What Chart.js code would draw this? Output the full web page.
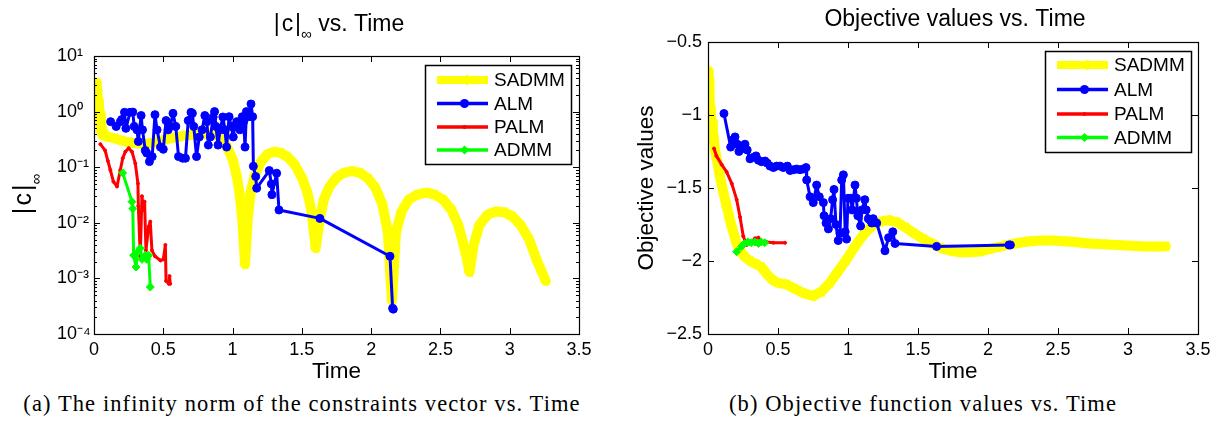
<!DOCTYPE html>
<html>
<head>
<meta charset="utf-8">
<script src="https://cdn.jsdelivr.net/npm/chart.js@4.4.1/dist/chart.umd.min.js"></script>
<style>
  body { margin: 0; background: #fff; width: 1218px; height: 421px; position: relative; overflow: hidden; }
  canvas { position: absolute; top: 0; }
  .cap { position: absolute; top: 391px; font-family: "Liberation Serif", "DejaVu Serif", serif; font-size: 22.5px; letter-spacing: 1.1px; text-align: center; white-space: nowrap; }
</style>
</head>
<body>
<canvas id="left" width="600" height="390" style="left:0"></canvas>
<canvas id="right" width="618" height="390" style="left:600px"></canvas>
<div class="cap" style="left:0;width:604px">(a) The infinity norm of the constraints vector vs. Time</div>
<div class="cap" style="left:600px;width:646px">(b) Objective function values vs. Time</div>
<script>
// ---- data: [time, value] ----
const seriesNames = ['SADMM', 'ALM', 'PALM', 'ADMM']

const timeTicks = [0, 0.5, 1, 1.5, 2, 2.5, 3, 3.5]
const normTicks = [1e-4, 1e-3, 1e-2, 1e-1, 1, 10]
const normTickLabels = ['10\u207B\u2074', '10\u207B\u00B3', '10\u207B\u00B2', '10\u207B\u00B9', '10\u2070', '10\u00B9']
const objTicks = [-2.5, -2, -1.5, -1, -0.5]
const objTickLabels = ['\u22122.5', '\u22122', '\u22121.5', '\u22121', '\u22120.5']

// |c|_inf
const sadmmNorm = [[0,3.2],[0.005,1.5],[0.01,2.8],[0.015,3.3],[0.02,1.8],[0.025,2.4],[0.03,1.2],[0.035,1.6],[0.04,0.7],[0.045,0.9],[0.05,0.45],[0.055,0.6],[0.06,0.38],[0.07,0.42],[0.08,0.36],[0.1,0.35],[0.15,0.33],[0.2,0.3],[0.25,0.28],[0.3,0.27],[0.35,0.26],[0.4,0.27],[0.45,0.29],[0.5,0.31],[0.55,0.33],[0.6,0.35],[0.65,0.37],[0.7,0.38],[0.75,0.39],[0.8,0.4],[0.85,0.4],[0.9,0.36],[0.95,0.26],[1.0,0.14],[1.03,0.07],[1.05,0.035],[1.07,0.012],[1.09,0.0018],[1.11,0.012],[1.13,0.035],[1.16,0.07],[1.2,0.12],[1.25,0.17],[1.3,0.19],[1.35,0.18],[1.4,0.15],[1.45,0.11],[1.5,0.065],[1.54,0.035],[1.57,0.016],[1.6,0.0035],[1.63,0.012],[1.66,0.027],[1.7,0.045],[1.75,0.065],[1.8,0.079],[1.86,0.085],[1.92,0.079],[1.98,0.062],[2.03,0.043],[2.08,0.022],[2.12,0.007],[2.15,0.0004],[2.18,0.007],[2.22,0.016],[2.27,0.026],[2.33,0.032],[2.4,0.035],[2.46,0.032],[2.52,0.026],[2.58,0.017],[2.63,0.009],[2.68,0.003],[2.71,0.0013],[2.74,0.004],[2.78,0.009],[2.84,0.014],[2.9,0.016],[2.96,0.0155],[3.02,0.013],[3.08,0.009],[3.14,0.005],[3.2,0.002],[3.26,0.0009]]
const almNorm = [[0.12,0.66],[0.16,0.54],[0.19,0.66],[0.2,0.72],[0.22,0.97],[0.23,0.5],[0.26,0.97],[0.28,0.98],[0.29,0.54],[0.31,0.47],[0.32,0.29],[0.34,0.85],[0.35,0.47],[0.37,0.2],[0.38,0.18],[0.4,0.126],[0.42,0.155],[0.44,0.88],[0.455,0.47],[0.48,0.23],[0.5,0.21],[0.52,0.69],[0.535,0.47],[0.55,0.54],[0.57,0.93],[0.59,0.54],[0.61,0.155],[0.64,0.145],[0.66,0.145],[0.68,0.69],[0.7,0.97],[0.71,0.93],[0.72,0.54],[0.74,0.155],[0.76,0.35],[0.78,0.47],[0.8,0.85],[0.815,0.66],[0.825,0.25],[0.84,0.35],[0.86,0.8],[0.87,1.0],[0.88,0.54],[0.895,0.25],[0.91,0.47],[0.93,0.8],[0.945,0.47],[0.957,0.23],[0.975,0.81],[0.99,0.54],[1.005,0.35],[1.015,0.54],[1.03,0.66],[1.053,0.47],[1.07,0.81],[1.08,0.66],[1.09,0.23],[1.1,1.0],[1.115,0.81],[1.133,1.37],[1.145,0.81],[1.15,0.104],[1.167,0.068],[1.174,0.042],[1.265,0.087],[1.28,0.05],[1.284,0.032],[1.318,0.078],[1.335,0.017],[1.63,0.012],[2.136,0.0025],[2.155,0.00029],[2.16,0.00028]]
const palmNorm = [[0.046,0.26],[0.08,0.2],[0.1,0.13],[0.118,0.089],[0.14,0.055],[0.166,0.045],[0.19,0.089],[0.207,0.144],[0.226,0.19],[0.25,0.22],[0.274,0.19],[0.298,0.117],[0.317,0.051],[0.32,0.02],[0.334,0.0025],[0.346,0.03],[0.358,0.017],[0.365,0.024],[0.375,0.0032],[0.394,0.0085],[0.406,0.0105],[0.418,0.0032],[0.44,0.0025],[0.48,0.0021],[0.5,0.0022],[0.515,0.004],[0.52,0.0009],[0.54,0.0008],[0.545,0.0011],[0.55,0.0008]]
const admmNorm = [[0.207,0.079],[0.274,0.024],[0.28,0.018],[0.286,0.0026],[0.303,0.0016],[0.317,0.003],[0.334,0.0035],[0.346,0.0022],[0.37,0.0026],[0.38,0.0022],[0.394,0.0026],[0.406,0.0007]]

// objective values
const sadmmObj = [[0,-0.7],[0.005,-0.88],[0.01,-0.75],[0.015,-1.07],[0.02,-0.95],[0.025,-1.12],[0.03,-1.05],[0.035,-1.18],[0.04,-1.14],[0.05,-1.24],[0.062,-1.3],[0.085,-1.42],[0.11,-1.53],[0.135,-1.63],[0.157,-1.72],[0.18,-1.8],[0.205,-1.88],[0.23,-1.93],[0.26,-1.97],[0.3,-2.0],[0.34,-2.02],[0.38,-2.04],[0.42,-2.09],[0.46,-2.13],[0.5,-2.15],[0.56,-2.16],[0.62,-2.19],[0.68,-2.22],[0.75,-2.24],[0.81,-2.21],[0.87,-2.15],[0.93,-2.07],[0.99,-1.99],[1.05,-1.9],[1.11,-1.82],[1.17,-1.76],[1.23,-1.73],[1.29,-1.72],[1.35,-1.735],[1.41,-1.77],[1.47,-1.81],[1.54,-1.85],[1.6,-1.88],[1.66,-1.91],[1.73,-1.93],[1.8,-1.94],[1.87,-1.94],[1.94,-1.935],[2.0,-1.92],[2.07,-1.905],[2.14,-1.89],[2.22,-1.875],[2.3,-1.865],[2.38,-1.86],[2.46,-1.86],[2.54,-1.865],[2.62,-1.87],[2.72,-1.88],[2.82,-1.885],[2.92,-1.89],[3.02,-1.895],[3.12,-1.9],[3.2,-1.9],[3.27,-1.9]]
const almObj = [[0.114,-0.99],[0.162,-1.22],[0.18,-1.17],[0.193,-1.15],[0.21,-1.2],[0.221,-1.25],[0.245,-1.23],[0.264,-1.2],[0.28,-1.24],[0.3,-1.3],[0.324,-1.29],[0.343,-1.28],[0.36,-1.31],[0.383,-1.32],[0.407,-1.315],[0.424,-1.33],[0.443,-1.35],[0.467,-1.36],[0.49,-1.35],[0.514,-1.35],[0.538,-1.36],[0.567,-1.35],[0.586,-1.38],[0.61,-1.375],[0.633,-1.37],[0.657,-1.375],[0.68,-1.37],[0.7,-1.36],[0.705,-1.445],[0.729,-1.56],[0.752,-1.6],[0.776,-1.48],[0.795,-1.56],[0.824,-1.6],[0.829,-1.69],[0.843,-1.74],[0.86,-1.78],[0.876,-1.71],[0.89,-1.58],[0.9,-1.51],[0.914,-1.75],[0.93,-1.86],[0.943,-1.81],[0.955,-1.445],[0.967,-1.41],[0.98,-1.8],[0.99,-1.85],[1.0,-1.57],[1.02,-1.57],[1.03,-1.65],[1.05,-1.48],[1.06,-1.57],[1.07,-1.69],[1.09,-1.76],[1.1,-1.65],[1.12,-1.58],[1.13,-1.65],[1.145,-1.71],[1.157,-1.72],[1.17,-1.74],[1.18,-1.71],[1.205,-1.74],[1.264,-1.93],[1.29,-1.84],[1.32,-1.8],[1.336,-1.88],[1.633,-1.9],[2.15,-1.89],[2.16,-1.89]]
const palmObj = [[0.043,-1.23],[0.06,-1.28],[0.098,-1.34],[0.133,-1.39],[0.17,-1.47],[0.205,-1.58],[0.229,-1.7],[0.252,-1.83],[0.276,-1.89],[0.3,-1.88],[0.336,-1.845],[0.36,-1.84],[0.38,-1.87],[0.417,-1.87],[0.467,-1.875],[0.55,-1.875]]
const admmObj = [[0.205,-1.936],[0.24,-1.9],[0.26,-1.88],[0.286,-1.87],[0.31,-1.875],[0.336,-1.87],[0.36,-1.88],[0.38,-1.87],[0.405,-1.875]]

const SANS = '"Liberation Sans", Arial, Helvetica, sans-serif'

const styles = [
  { color: '#ffff00', width: 10, marker: 'triangle', rotation: -90, radius: 5.5, order: 4 },
  { color: '#0000ff', width: 3, marker: 'circle', rotation: 0, radius: 4, order: 3 },
  { color: '#ff0000', width: 3, marker: 'circle', rotation: 0, radius: 1.5, order: 2 },
  { color: '#00ff00', width: 3, marker: 'rectRot', rotation: 0, radius: 4, order: 1 },
]

function makeDatasets(list) {
  return list.map((pts, i) => {
    const s = styles[i]
    return {
      label: seriesNames[i],
      data: pts.map(([x, y]) => ({ x, y })),
      borderColor: s.color,
      backgroundColor: s.color,
      borderWidth: s.width,
      borderJoinStyle: 'round',
      borderCapStyle: 'round',
      pointStyle: s.marker,
      rotation: s.rotation,
      pointRadius: s.radius,
      pointBackgroundColor: s.color,
      pointBorderColor: s.color,
      pointBorderWidth: 1,
      tension: 0,
      order: s.order,
    }
  })
}

function drawMarker(ctx, s, x, y) {
  ctx.fillStyle = s.color
  ctx.beginPath()
  const r = s.radius + (s.marker === 'triangle' ? 1 : 0.5)
  if (s.marker === 'circle') {
    ctx.arc(x, y, r, 0, Math.PI * 2)
  } else if (s.marker === 'triangle') {
    ctx.moveTo(x - r, y); ctx.lineTo(x + r * 0.6, y - r * 0.9); ctx.lineTo(x + r * 0.6, y + r * 0.9)
  } else {
    ctx.moveTo(x, y - r); ctx.lineTo(x + r, y); ctx.lineTo(x, y + r); ctx.lineTo(x - r, y)
  }
  ctx.closePath()
  ctx.fill()
}

// text made of parts, some of them lowered (subscripts)
function drawParts(ctx, parts, cx, base, rot) {
  ctx.save()
  ctx.translate(cx, base)
  if (rot) ctx.rotate(rot)
  let w = 0
  parts.forEach(p => { ctx.font = p.size + 'px ' + SANS; p.w = ctx.measureText(p.t).width; w += p.w })
  let xx = -w / 2
  ctx.fillStyle = '#000'
  ctx.textAlign = 'left'
  ctx.textBaseline = 'alphabetic'
  parts.forEach(p => { ctx.font = p.size + 'px ' + SANS; ctx.fillText(p.t, xx, p.dy || 0); xx += p.w })
  ctx.restore()
}

// matlab style box, inward ticks, titles and boxed legend
const frame = {
  id: 'frame',
  afterDraw(chart, args, o) {
    const { ctx, chartArea: a, scales: { x, y } } = chart
    ctx.save()
    ctx.strokeStyle = '#000'
    ctx.lineWidth = 1
    ctx.beginPath()
    x.ticks.forEach(t => {
      const p = Math.round(x.getPixelForValue(t.value)) + 0.5
      ctx.moveTo(p, a.bottom); ctx.lineTo(p, a.bottom - 6)
      ctx.moveTo(p, a.top); ctx.lineTo(p, a.top + 6)
    })
    y.ticks.forEach(t => {
      const p = Math.round(y.getPixelForValue(t.value)) + 0.5
      ctx.moveTo(a.left, p); ctx.lineTo(a.left + 6, p)
      ctx.moveTo(a.right, p); ctx.lineTo(a.right - 6, p)
    })
    if (y.type === 'logarithmic') {
      for (let d = -4; d < 1; d++) {
        for (let k = 2; k < 10; k++) {
          const p = Math.round(y.getPixelForValue(k * Math.pow(10, d))) + 0.5
          ctx.moveTo(a.left, p); ctx.lineTo(a.left + 3, p)
          ctx.moveTo(a.right, p); ctx.lineTo(a.right - 3, p)
        }
      }
    }
    ctx.stroke()
    ctx.lineWidth = 1.2
    ctx.strokeRect(Math.round(a.left) + 0.5, Math.round(a.top) + 0.5, Math.round(a.width), Math.round(a.height))

    drawParts(ctx, o.title, o.titleX, o.titleY)
    if (o.yTitle) drawParts(ctx, o.yTitle, o.yTitleX, o.yTitleY, -Math.PI / 2)

    const L = o.legend
    ctx.fillStyle = '#fff'
    ctx.fillRect(L.x, L.y, L.w, L.h)
    ctx.lineWidth = 1.5
    ctx.strokeStyle = '#000'
    ctx.strokeRect(L.x + 0.5, L.y + 0.5, L.w, L.h)
    ctx.font = '19px ' + SANS
    ctx.textBaseline = 'middle'
    ctx.textAlign = 'left'
    seriesNames.forEach((name, i) => {
      const s = styles[i]
      const yy = L.rows[i]
      ctx.strokeStyle = s.color
      ctx.lineWidth = i === 0 ? 8 : 3.5
      ctx.beginPath(); ctx.moveTo(L.x1, yy); ctx.lineTo(L.x2, yy); ctx.stroke()
      drawMarker(ctx, s, (L.x1 + L.x2) / 2 + 2, yy)
      ctx.fillStyle = '#000'
      ctx.fillText(name, L.tx, yy + 1)
    })
    ctx.restore()
  }
}

const tickFont = { family: SANS, size: 18 }
const axisFont = { family: SANS, size: 22.5 }

function xScale() {
  return {
    type: 'linear', min: 0, max: 3.5,
    afterBuildTicks: s => { s.ticks = timeTicks.map(v => ({ value: v })) },
    afterFit: s => { s.height = 56 },
    grid: { display: false, drawTicks: false },
    border: { display: false },
    ticks: { color: '#000', font: tickFont, padding: 5, maxRotation: 0, callback: v => String(v) },
    title: { display: true, text: 'Time', color: '#000', font: axisFont, padding: { top: 0, bottom: 5 } },
  }
}

const common = {
  responsive: false,
  animation: false,
  events: [],
  plugins: { legend: { display: false }, tooltip: { enabled: false } },
}

new Chart(document.getElementById('left'), {
  type: 'line',
  data: { datasets: makeDatasets([sadmmNorm, almNorm, palmNorm, admmNorm]) },
  options: {
    ...common,
    layout: { padding: { left: 57, right: 21, top: 56, bottom: 0 } },
    plugins: {
      ...common.plugins,
      frame: {
        title: [{ t: '|\u200Ac\u200A|', size: 23 }, { t: '\u221E', size: 15, dy: 8 }, { t: ' vs. Time', size: 23 }],
        titleX: 339, titleY: 31,
        yTitle: [{ t: '|\u200Ac\u200A|', size: 25 }, { t: '\u221E', size: 15, dy: 10 }],
        yTitleX: 31, yTitleY: 194,
        legend: { x: 425, y: 65, w: 146, h: 99, rows: [80, 103.5, 127, 150], x1: 437, x2: 488, tx: 494 },
      },
    },
    scales: {
      x: xScale(),
      y: {
        type: 'logarithmic', min: 1e-4, max: 10,
        afterBuildTicks: s => { s.ticks = normTicks.map(v => ({ value: v })) },
        afterFit: s => { s.width = 37 },
        grid: { display: false, drawTicks: false },
        border: { display: false },
        ticks: { color: '#000', font: tickFont, crossAlign: 'far', callback: (v, i) => normTickLabels[i] },
      },
    },
  },
  plugins: [frame],
})

new Chart(document.getElementById('right'), {
  type: 'line',
  data: { datasets: makeDatasets([sadmmObj, almObj, palmObj, admmObj]) },
  options: {
    ...common,
    layout: { padding: { left: 0, right: 20, top: 42, bottom: 0 } },
    plugins: {
      ...common.plugins,
      frame: {
        title: [{ t: 'Objective values vs. Time', size: 23 }],
        titleX: 355, titleY: 26,
        legend: { x: 445, y: 51, w: 146, h: 101, rows: [65, 89.5, 114, 137.5], x1: 457, x2: 508, tx: 514 },
      },
    },
    scales: {
      x: xScale(),
      y: {
        type: 'linear', min: -2.5, max: -0.5,
        afterBuildTicks: s => { s.ticks = objTicks.map(v => ({ value: v })) },
        afterFit: s => { s.width = 108 },
        grid: { display: false, drawTicks: false },
        border: { display: false },
        ticks: { color: '#000', font: tickFont, padding: 6, callback: (v, i) => objTickLabels[i] },
        title: { display: true, text: 'Objective values', color: '#000', font: axisFont, padding: { top: 33, bottom: 0 } },
      },
    },
  },
  plugins: [frame],
})
</script>
</body>
</html>
